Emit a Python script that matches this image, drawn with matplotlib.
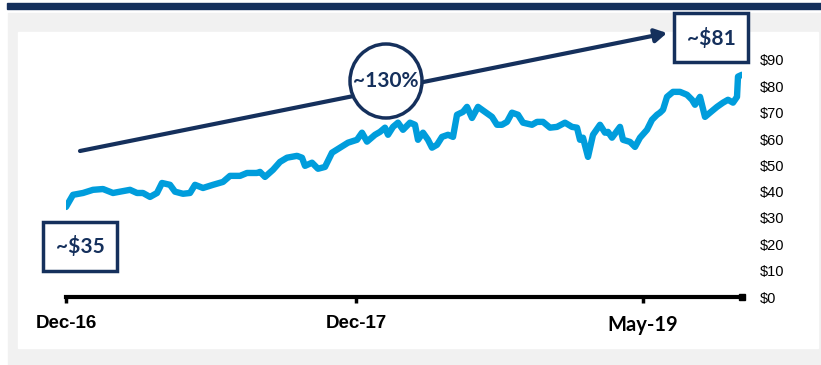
import matplotlib.pyplot as plt
from matplotlib.patches import Rectangle, Ellipse, FancyArrowPatch

# position along the (category) x axis and share price
day = [0, 7, 17, 27, 37, 47, 54, 64, 71, 77, 84, 91, 96, 104, 109, 117, 124,
       129, 137, 147, 157, 164, 174, 181, 191, 194, 199, 207, 214, 221, 231,
       236, 239, 246, 252, 259, 266, 274, 282, 291, 296, 301, 309, 314, 319,
       322, 327, 332, 337, 344, 349, 352, 357, 362, 366, 371, 376, 382, 387,
       391, 397, 401, 406, 412, 419, 426, 431, 436, 441, 446, 452, 457, 466,
       471, 477, 484, 491, 499, 506, 511, 514, 517, 522, 527, 534, 539, 542,
       546, 554, 557, 564, 569, 574, 581, 586, 591, 594, 597, 601, 607, 614,
       621, 626, 629, 634, 639, 644, 651, 657, 662, 667, 671, 672, 676]
price = [34.2, 38.8, 39.5, 40.7, 41.0, 39.5, 40.0, 40.7, 39.5, 39.5, 38.0,
         39.5, 43.3, 42.6, 40.0, 39.2, 39.5, 42.6, 41.4, 42.6, 43.7, 46.0,
         46.0, 47.1, 47.1, 47.5, 45.6, 48.3, 51.3, 52.9, 53.6, 52.9, 49.8,
         51.0, 48.7, 49.4, 54.8, 56.7, 58.6, 59.7, 62.4, 59.0, 61.6, 62.7,
         64.3, 61.6, 64.6, 66.2, 63.5, 66.2, 65.4, 59.7, 62.4, 59.7, 56.7,
         57.8, 60.8, 61.6, 60.8, 69.2, 70.3, 72.2, 68.0, 72.2, 70.3, 68.4,
         65.4, 65.4, 66.5, 70.0, 69.2, 66.2, 65.4, 66.5, 66.5, 64.3, 64.6,
         66.2, 64.6, 64.3, 59.7, 60.5, 53.2, 61.6, 65.4, 62.4, 62.7, 60.5,
         64.6, 59.7, 58.9, 57.0, 60.5, 63.5, 67.3, 69.2, 70.0, 71.1, 76.0,
         77.9, 77.9, 76.8, 74.9, 73.0, 76.0, 68.4, 70.0, 72.2, 73.8, 74.9,
         73.8, 76.0, 83.7, 84.4]

tick_pos = [0, 290, 577]
tick_labels = ['Dec-16', 'Dec-17', 'May-19']
y_ticks = [0, 10, 20, 30, 40, 50, 60, 70, 80, 90]

NAVY = '#15305c'
BLUE = '#009ddc'
W, H = 821, 365


def px(x, y):
    """pixel position -> figure fraction"""
    return x / W, 1 - y / H


fig = plt.figure(figsize=(W / 100, H / 100), dpi=100)

# frame: navy rule, grey panel, white panel
fig.patches.append(Rectangle(px(7, 9), 814 / W, 6 / H, transform=fig.transFigure,
                             color=NAVY, zorder=-10))
fig.patches.append(Rectangle(px(8, 365), 813 / W, 352 / H, transform=fig.transFigure,
                             color='#f1f1f1', zorder=-9))
fig.patches.append(Rectangle(px(18, 348), 800 / W, 316 / H, transform=fig.transFigure,
                             color='white', zorder=-8))

l, b = px(66, 297)
r, t = px(742, 60)
ax = fig.add_axes([l, b, r - l, t - b])
ax.patch.set_alpha(0)

ax.plot(day, price, color=BLUE, lw=4.6, solid_joinstyle='round',
        solid_capstyle='round', zorder=3)
ax.set_xlim(0, 676)
ax.set_ylim(0, 90)

for s in ['left', 'top', 'right']:
    ax.spines[s].set_visible(False)
ax.spines['bottom'].set_linewidth(3)
ax.plot([676], [0], marker='s', ms=5, color='black', clip_on=False, zorder=4)

ax.set_xticks(tick_pos)
ax.set_xticklabels(tick_labels)
ax.tick_params(axis='x', length=4, width=2.5, pad=9)
for lab in ax.get_xticklabels():
    if lab.get_text() == 'May-19':
        lab.set_fontfamily('Lato')
        lab.set_fontsize(14.5)
    else:
        lab.set_fontfamily('Liberation Sans')
        lab.set_fontsize(13.5)
    lab.set_fontweight('bold')

ax.yaxis.tick_right()
ax.set_yticks(y_ticks)
ax.set_yticklabels(['$%d' % v for v in y_ticks], family='Liberation Sans',
                   fontsize=10.5)
ax.tick_params(axis='y', length=0, pad=13)

# trend arrow
arrow = FancyArrowPatch(px(80, 151), px(667, 33), transform=fig.transFigure,
                        arrowstyle='-|>,head_length=7,head_width=4',
                        color=NAVY, lw=3, zorder=5, shrinkA=0, shrinkB=0)
fig.patches.append(arrow)

# growth bubble
cx, cy = px(386, 81)
fig.patches.append(Ellipse((cx, cy), 72 / W, 74 / H, transform=fig.transFigure,
                           facecolor='white', edgecolor=NAVY, lw=2.5, zorder=6))
fig.text(cx, cy, '~130%', ha='center', va='center', family='Lato',
         weight='bold', fontsize=15, color=NAVY, zorder=7)

# start / end price boxes
for x0, y0, txt in [(674, 62, '~$81'), (43, 271, '~$35')]:
    fig.patches.append(Rectangle(px(x0, y0), 74 / W, 49 / H, transform=fig.transFigure,
                                 facecolor='white', edgecolor=NAVY, lw=2.5, zorder=6))
    tx, ty = px(x0 + 37, y0 - 24)
    fig.text(tx, ty, txt, ha='center', va='center', family='Lato',
             weight='bold', fontsize=15, color=NAVY, zorder=7)

plt.savefig('out.png', dpi=100)
